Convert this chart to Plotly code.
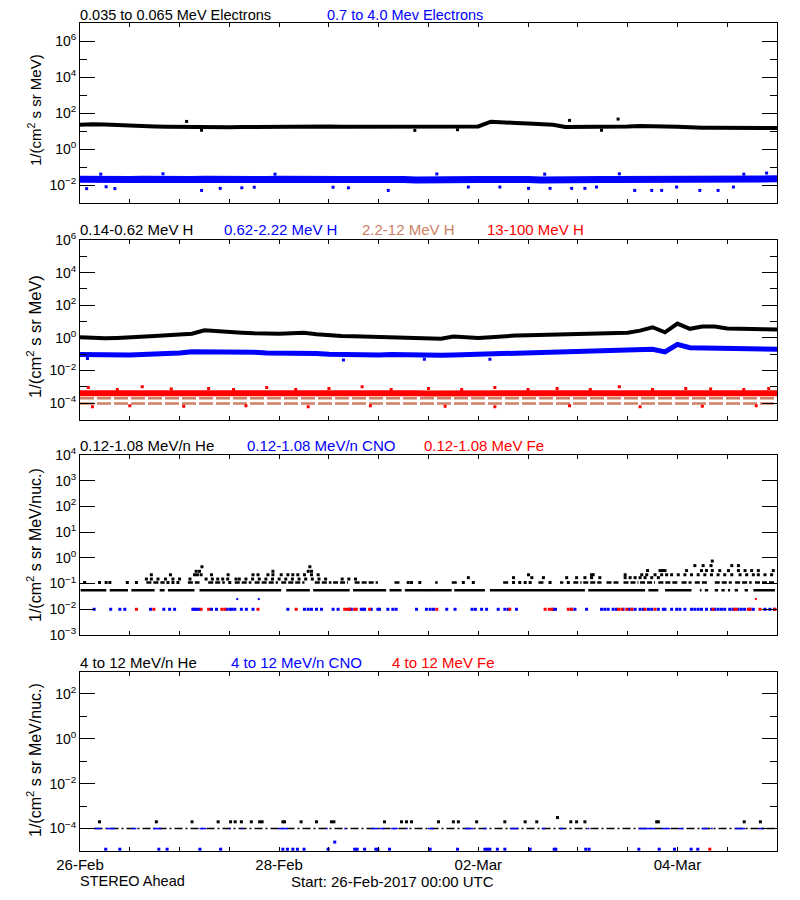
import numpy as np
import pandas as pd
import plotly.graph_objects as go

START = pd.Timestamp("2017-02-26 00:00")

# ---------------- x ticks ----------------
tick_hours = [0, 12, 24, 36, 48, 60, 72, 84, 96, 108, 120, 132, 144, 156, 168]
tick_text = ["26-Feb", "", "", "", "28-Feb", "", "", "", "02-Mar", "", "", "", "04-Mar", "", ""]

# 3-hourly time grid (hours after start)
grid_hours = list(range(0, 169, 3))

# ---------------- Panel 1 : electrons ----------------
e_lo = [22, 24, 23, 21, 19, 18, 18, 17.5, 17, 16,
        15.5, 15.5, 16, 16.5, 17, 17.5, 18, 18, 19, 18.5,
        18, 17.5, 17.5, 17, 17, 17.5, 17, 17.5, 17, 17.5,
        17.5, 17, 18, 33, 32, 28, 26, 24, 22, 16.5,
        16.5, 17, 18, 18.5, 18, 19, 19.5, 18, 17, 15.5,
        15, 15, 14.5, 14.5, 14.5, 14.5, 14.5]
e_lo_out_h = [25.7, 29.3, 80.7, 91.0, 118.0, 125.7, 129.7]
e_lo_out_v = [34, 11, 10.8, 11.8, 39, 11, 46]

e_hi = [0.021, 0.02, 0.021, 0.02, 0.02, 0.021, 0.02, 0.019, 0.02, 0.02,
        0.021, 0.02, 0.02, 0.019, 0.02, 0.02, 0.021, 0.02, 0.02, 0.02,
        0.019, 0.02, 0.02, 0.021, 0.02, 0.02, 0.02, 0.019, 0.02, 0.02,
        0.021, 0.02, 0.02, 0.02, 0.021, 0.02, 0.02, 0.019, 0.02, 0.02,
        0.02, 0.021, 0.02, 0.02, 0.02, 0.019, 0.02, 0.02, 0.021, 0.02,
        0.02, 0.02, 0.02, 0.021, 0.02, 0.021, 0.022]
e_hi_out_h = [1.6, 6.3, 8.4, 29.3, 33.8, 39.0, 42.0, 61.0, 64.7, 74.3, 93.6, 101.2,
              108.1, 113.3, 118.5, 121.7, 124.5, 133.7, 137.8, 140.2, 143.8, 149.4,
              153.8, 157.5, 165.5, 5.0, 20.0, 47.0, 86.0, 112.0, 130.0, 160.0]
e_hi_out_v = [0.0063, 0.008, 0.0063, 0.005, 0.0065, 0.007, 0.0075, 0.0075, 0.007, 0.005,
              0.0077, 0.0077, 0.0065, 0.0065, 0.0065, 0.0065, 0.0077, 0.005, 0.005, 0.005,
              0.0077, 0.005, 0.005, 0.0077, 0.046, 0.04, 0.042, 0.04, 0.041, 0.04, 0.042, 0.04]

# ---------------- Panel 2 : protons ----------------
h1 = [1.1, 1.0, 0.95, 1.0, 1.05, 1.2, 1.3, 1.45, 1.6, 1.8,
      2.9, 2.5, 2.2, 2.1, 1.9, 1.75, 1.8, 1.95, 2.05, 1.7,
      1.4, 1.3, 1.25, 1.2, 1.15, 1.15, 1.1, 1.05, 0.95, 0.9,
      1.2, 1.1, 1.0, 1.1, 1.3, 1.4, 1.45, 1.5, 1.55, 1.6,
      1.6, 1.75, 1.8, 1.9, 2.1, 2.8, 4.5, 2.2, 7.5, 3.6,
      5.0, 5.0, 3.8, 3.6, 3.7, 3.4, 3.3]
h2 = [0.095, 0.09, 0.088, 0.09, 0.09, 0.095, 0.1, 0.1, 0.12, 0.14,
      0.14, 0.145, 0.14, 0.135, 0.13, 0.12, 0.12, 0.125, 0.12, 0.11,
      0.1, 0.095, 0.09, 0.09, 0.09, 0.095, 0.09, 0.088, 0.085, 0.088,
      0.09, 0.095, 0.1, 0.105, 0.11, 0.12, 0.12, 0.125, 0.13, 0.135,
      0.14, 0.14, 0.15, 0.16, 0.19, 0.2, 0.2, 0.14, 0.4, 0.25,
      0.24, 0.26, 0.24, 0.23, 0.22, 0.21, 0.2]
h2_out_h = [1.8, 63.5, 83.0, 98.8]
h2_out_v = [0.055, 0.044, 0.05, 0.05]
h3_levels = [2.0e-4, 9.5e-5]
h4 = [4.0e-4, 4.2e-4, 4.0e-4, 3.9e-4, 4.1e-4, 4.0e-4, 4.2e-4, 4.0e-4, 3.9e-4, 4.0e-4,
      4.1e-4, 4.0e-4, 4.0e-4, 3.9e-4, 4.0e-4, 4.1e-4, 4.0e-4, 4.0e-4, 3.9e-4, 4.0e-4,
      4.0e-4, 4.1e-4, 4.0e-4, 3.9e-4, 4.0e-4, 4.0e-4, 4.1e-4, 4.0e-4, 3.9e-4, 4.0e-4,
      4.0e-4, 4.0e-4, 4.1e-4, 4.0e-4, 3.9e-4, 4.0e-4, 4.0e-4, 4.1e-4, 4.0e-4, 4.0e-4,
      3.9e-4, 4.0e-4, 4.1e-4, 4.0e-4, 4.0e-4, 4.1e-4, 4.0e-4, 4.0e-4, 4.2e-4, 4.0e-4,
      4.1e-4, 4.0e-4, 4.0e-4, 4.1e-4, 4.0e-4, 4.0e-4, 4.1e-4]
h4_out_h = [2, 9, 15, 22, 31, 37, 45, 52, 60, 68, 75, 84, 92, 100, 108, 115, 123, 130,
            138, 146, 152, 160, 166, 3, 12, 25, 40, 55, 70, 88, 100, 118, 135, 150, 163]
h4_out_v = [9e-4, 7e-4, 1e-3, 7.5e-4, 8e-4, 7e-4, 9e-4, 7e-4, 8e-4, 1e-3, 7e-4, 8e-4,
            7e-4, 9e-4, 7e-4, 8e-4, 7e-4, 1e-3, 7e-4, 8e-4, 7.5e-4, 7e-4, 8e-4,
            6e-5, 7e-5, 6.5e-5, 7e-5, 6e-5, 7e-5, 6.5e-5, 6e-5, 7e-5, 6e-5, 6.5e-5, 7e-5]

# ---------------- Panel 3 : low-energy heavy ions ----------------
he_base_level = 0.055
he_base_start = [0.16, 7.15, 12.37, 19.2, 21.2, 28.8, 49.7, 56.2, 65.8, 74.6, 78.3, 83.6, 90.2,
                 98.8, 122.5, 137.0, 141.0, 149.4, 150.6, 153.0, 154.6, 156.2, 157.8, 160.2, 162.3]
he_base_end = [6.35, 11.57, 17.99, 20.4, 27.6, 48.5, 55.4, 65.0, 73.8, 77.5, 83.7, 89.6, 97.6,
               121.7, 136.2, 139.4, 147.4, 149.8, 151.4, 153.8, 155.4, 156.7, 158.6, 161.0, 167.5]
he_mid_level = 0.11
he_mid_start = [16.0, 26.0, 30.9, 37.3, 42.1, 48.5, 56.6, 61.0, 66.2, 75.8, 85.6, 89.6, 102.0,
                110.5, 115.7, 118.9, 121.3, 126.9, 131.0, 135.0, 139.4, 145.0, 148.2, 153.0,
                157.9, 162.7]
he_mid_end = [20.4, 28.8, 34.9, 41.3, 47.7, 54.1, 60.6, 64.6, 71.8, 77.0, 86.2, 91.2, 103.2,
              111.7, 116.5, 120.9, 125.7, 129.8, 134.6, 138.6, 144.2, 147.4, 151.4, 157.1,
              161.9, 167.5]
he_mid_pts = [1.1, 4.7, 6.3, 7.2, 11.4, 13.6, 21.2, 22.4, 23.6, 36.1, 79.1, 79.9, 81.9,
              92.4, 94.8, 104.5, 106.0, 107.3, 108.5, 113.3, 117.7]
he_hi_h = [16.0, 17.2, 18.8, 20.6, 22.4, 24.0, 26.5, 30.4, 31.9, 33.2, 34.4, 35.6, 37.6,
           38.4, 40.0, 41.6, 43.2, 44.8, 46.4, 48.0, 49.6, 51.2, 52.8, 54.4, 56.0, 57.6,
           59.2, 63.2, 64.8, 66.4,
           17.2, 21.8, 27.6, 28.3, 29.2, 31.7, 35.7, 41.7, 42.9, 45.3, 46.5, 48.5, 50.1,
           51.3, 52.5, 54.1, 55.8, 57.4,
           28.0, 28.8, 46.5, 55.0, 55.8, 29.4, 55.4,
           93.6, 104.5, 108.9, 111.7, 117.3, 119.7, 121.7, 123.3, 125.3, 131.4, 132.6,
           133.8, 135.0, 136.2, 137.8, 139.4,
           108.1, 123.3, 123.7, 131.4, 135.4, 136.6, 138.6, 140.2, 141.4, 142.6, 144.2,
           145.8, 147.4, 149.0, 150.6, 152.2, 153.8, 155.4, 157.1, 159.1, 160.7, 162.3,
           163.5, 165.1, 166.7,
           136.8, 139.8, 140.4, 141.0, 146.2, 149.8, 151.0, 152.4, 154.2, 156.3, 158.7,
           160.3, 161.9, 163.5, 167.1,
           148.2, 150.2, 152.1, 157.1, 158.7, 152.4]
he_hi_v = [0.15] * 30 + [0.22] * 18 + [0.3] * 5 + [0.45] * 2 + [0.17] * 16 + \
          [0.22] * 25 + [0.32] * 15 + [0.5] * 5 + [0.75]

cno_lo_h = [3.4, 7.4, 9.6, 10.8, 17.0, 20.2, 21.6, 22.8, 27.2, 27.6, 28.0, 28.6, 31.7, 32.9,
            35.3, 36.1, 36.6, 37.3, 38.9, 40.1, 41.7, 50.1, 54.1, 55.0, 55.8, 57.0, 58.2,
            61.0, 62.2, 65.0, 65.4, 67.8, 68.2, 68.6, 70.2, 71.8, 72.2, 74.2, 75.4, 76.2,
            81.1, 83.5, 84.4, 85.2, 88.4, 90.4, 94.5, 95.3, 96.8, 98.0, 100.8, 102.4,
            103.2, 105.2, 114.1, 114.6, 118.5, 119.3, 122.1, 125.7, 126.5, 127.3, 128.5,
            129.3, 130.9, 132.2, 133.0, 133.8, 135.0, 135.8, 137.0, 137.8, 139.4, 140.6,
            141.0, 142.6, 143.8, 144.6, 145.8, 147.4, 148.2, 149.0, 149.8, 151.0, 152.2,
            153.0, 153.8, 154.6, 155.4, 156.6, 157.4, 158.6, 159.4, 160.2, 161.5, 162.3,
            165.1, 166.3, 167.4]
cno_lo_hi_h = [37.9, 43.1]
fe_lo_h = [13.6, 17.8, 29.2, 31.0, 34.2, 34.9, 42.9, 52.1, 63.8, 64.4, 65.0, 66.2, 66.6,
           69.8, 86.0, 103.6, 112.1, 113.1, 113.7, 117.7, 118.5, 129.8, 130.6, 131.8,
           133.0, 136.2, 138.6, 152.6, 157.8, 158.2, 161.1, 161.5, 163.9, 167.5]
fe_lo_hi_h = [162.9]
lo_ion_level = 0.01
lo_ion_hi_level = 0.025

# ---------------- Panel 4 : high-energy heavy ions ----------------
hi_ion_level = 1e-4
he4_start = 3.5
he4_end = 168.0
he4_up_h = [4.7, 18.4, 27.0, 33.3, 36.3, 37.4, 38.9, 41.3, 43.3, 43.9, 48.9, 49.3, 53.3,
            57.0, 60.6, 61.2, 73.4, 77.5, 78.7, 79.9, 86.4, 90.0, 91.2, 95.6, 102.4, 107.3,
            110.1, 118.3, 119.7, 121.7, 139.0, 139.4, 160.1, 164.0, 115.1]
he4_up_v = [2e-4] * 34 + [3.1e-4]
cno4_start = [3.5, 6.3, 12.4, 17.6, 28.8, 36.0, 38.8, 47.7, 59.3, 63.7, 70.2, 72.2, 75.0, 78.6,
              83.9, 92.8, 97.2, 103.6, 111.3, 115.7, 122.4, 134.6, 140.2, 144.2, 149.8,
              152.1, 157.9, 163.5]
cno4_end = [5.1, 8.4, 13.6, 19.6, 30.4, 36.3, 39.1, 50.1, 59.6, 64.0, 71.8, 73.4, 76.6, 78.9,
            85.2, 94.8, 98.0, 105.7, 112.1, 116.5, 122.7, 138.6, 142.2, 145.4, 151.4,
            152.4, 160.3, 165.1]
cno4_low_h = [6.2, 9.6, 19.0, 21.0, 28.9, 33.9, 48.9, 50.0, 51.3, 52.4, 54.0, 59.8, 66.2,
              66.8, 68.6, 71.3, 71.8, 74.6, 84.4, 91.0, 97.6, 98.2, 98.8, 100.6, 102.4,
              108.5, 114.3, 114.7, 121.9, 122.7, 134.7, 139.6, 143.3, 147.3, 148.9, 61.4]
cno4_low_v = [1.2e-5] * 35 + [2.5e-5]
fe4_low_h = [151.8]
fe4_low_v = [1.2e-5]

SIENNA = "#CD8066"


def tx(hours):
    return list(START + pd.to_timedelta(np.asarray(hours, dtype=float), unit="h"))


def segs(starts, ends, level):
    xs, ys = [], []
    for a, b in zip(starts, ends):
        if b - a < 0.4:
            b = a + 0.4
        xs += tx([a, b]) + [None]
        ys += [level, level, None]
    return xs, ys


fig = go.Figure()


def line(h, v, color, width, ax, dash=None):
    fig.add_trace(go.Scatter(x=tx(h), y=v, mode="lines",
                             line=dict(color=color, width=width, dash=dash),
                             xaxis="x" + ax, yaxis="y" + ax, hoverinfo="skip"))


def pts(h, v, color, ax, size=3):
    fig.add_trace(go.Scatter(x=tx(h), y=v, mode="markers",
                             marker=dict(color=color, size=size, symbol="square", line=dict(width=0)),
                             xaxis="x" + ax, yaxis="y" + ax, hoverinfo="skip"))


def seg_trace(starts, ends, level, color, width, ax, dash=None):
    xs, ys = segs(starts, ends, level)
    fig.add_trace(go.Scatter(x=xs, y=ys, mode="lines",
                             line=dict(color=color, width=width, dash=dash),
                             xaxis="x" + ax, yaxis="y" + ax, hoverinfo="skip"))


# panel 1
line(grid_hours, e_lo, "black", 4, "")
pts(e_lo_out_h, e_lo_out_v, "black", "")
line(grid_hours, e_hi, "blue", 7, "")
pts(e_hi_out_h, e_hi_out_v, "blue", "")

# panel 2
line(grid_hours, h1, "black", 4, "2")
line(grid_hours, h2, "blue", 5, "2")
pts(h2_out_h, h2_out_v, "blue", "2")
for lev in h3_levels:
    seg_trace([0.0], [168.0], lev, SIENNA, 2.5, "2", dash="14px,3px")
line(grid_hours, h4, "red", 6, "2")
pts(h4_out_h, h4_out_v, "red", "2")

# panel 3
seg_trace(he_base_start, he_base_end, he_base_level, "black", 2.5, "3")
seg_trace(he_mid_start, he_mid_end, he_mid_level, "black", 2.5, "3", dash="5px,2px")
pts(he_mid_pts, [he_mid_level] * len(he_mid_pts), "black", "3")
pts(he_hi_h, he_hi_v, "black", "3")
pts(cno_lo_h, [lo_ion_level] * len(cno_lo_h), "blue", "3")
pts(cno_lo_hi_h, [lo_ion_hi_level] * len(cno_lo_hi_h), "blue", "3", size=2)
pts(fe_lo_h, [lo_ion_level] * len(fe_lo_h), "red", "3")
pts(fe_lo_hi_h, [lo_ion_hi_level] * len(fe_lo_hi_h), "red", "3", size=2)

# panel 4
seg_trace([he4_start], [he4_end], hi_ion_level, "black", 1.5, "4", dash="8px,3px,2px,3px")
pts(he4_up_h, he4_up_v, "black", "4")
seg_trace(cno4_start, cno4_end, hi_ion_level, "blue", 1.5, "4")
pts(cno4_low_h, cno4_low_v, "blue", "4")
pts(fe4_low_h, fe4_low_v, "red", "4")

FONT = "Liberation Sans, Arial, sans-serif"
# the page body adds an 8 px margin; lay the figure out in window pixels
OFF = 8
W, H = 792, 892
x_dom = [(80 - OFF) / W, (777 - OFF) / W]
panels_px = [(23, 203), (240, 419.5), (455, 635), (671.5, 851)]


def px_x(x):
    return (x - OFF) / W


def px_y(y):
    return 1 - (y - OFF) / H


def ydom(t, b):
    return [px_y(b), px_y(t)]


def sup(e):
    s = str(e).replace("-", "\u2212")
    return "10<sup>" + s + "</sup>"


y_specs = [
    dict(range=[-3, 7], major=[-2, 0, 2, 4, 6], minor=[-1, 1, 3, 5]),
    dict(range=[-5, 6], major=[-4, -2, 0, 2, 4, 6], minor=[-3, -1, 1, 3, 5]),
    dict(range=[-3, 4], major=[-3, -2, -1, 0, 1, 2, 3, 4], minor=[]),
    dict(range=[-5, 3], major=[-4, -2, 0, 2], minor=[-3, -1, 1]),
]

layout = dict(width=W, height=H, autosize=False, margin=dict(l=0, r=0, t=0, b=0, autoexpand=False),
              paper_bgcolor="white", plot_bgcolor="white", showlegend=False,
              font=dict(family=FONT, size=14, color="black"))

for i, ((t, b), ys) in enumerate(zip(panels_px, y_specs)):
    suffix = "" if i == 0 else str(i + 1)
    xa = dict(domain=x_dom, anchor="y" + suffix, type="date", automargin=False,
              range=tx([0, 168]), tickmode="array", tickvals=tx(tick_hours),
              ticktext=tick_text, showticklabels=(i == 3),
              ticks="inside", ticklen=4, tickcolor="black", tickwidth=1,
              showline=True, linecolor="black", linewidth=1, mirror="ticks",
              showgrid=False, zeroline=False, tickfont=dict(size=15, family=FONT))
    ya = dict(domain=ydom(t, b), anchor="x" + suffix, type="log", range=ys["range"],
              automargin=False,
              tickmode="array", tickvals=[10.0 ** e for e in ys["major"]],
              ticktext=[sup(e) for e in ys["major"]],
              ticks="inside", ticklen=15, tickcolor="black", tickwidth=1,
              showline=True, linecolor="black", linewidth=1, mirror="ticks",
              showgrid=False, zeroline=False, tickfont=dict(size=14, family=FONT))
    if ys["minor"]:
        ya["minor"] = dict(tickmode="array", tickvals=[10.0 ** e for e in ys["minor"]],
                           ticks="inside", ticklen=7, tickcolor="black", tickwidth=1,
                           showgrid=False)
    layout["xaxis" + suffix] = xa
    layout["yaxis" + suffix] = ya

fig.update_layout(**layout)

ann = []


def label(text, xpx, ypx, color="black", size=15, angle=0, xanchor="left", yanchor="middle"):
    ann.append(dict(text=text, x=px_x(xpx), y=px_y(ypx), xref="paper", yref="paper",
                    xanchor=xanchor, yanchor=yanchor, showarrow=False, textangle=angle,
                    borderpad=0, font=dict(family=FONT, size=size, color=color)))


# panel titles
label("0.035 to 0.065 MeV Electrons", 79, 15, size=14.5)
label("0.7 to 4.0 Mev Electrons", 326, 15, "blue", size=14.5)
label("0.14-0.62 MeV H", 79, 230)
label("0.62-2.22 MeV H", 223, 230, "blue")
label("2.2-12 MeV H", 361, 230, SIENNA)
label("13-100 MeV H", 486, 230, "red")
label("0.12-1.08 MeV/n He", 79, 445)
label("0.12-1.08 MeV/n CNO", 246, 445, "blue")
label("0.12-1.08 MeV Fe", 423, 445, "red")
label("4 to 12 MeV/n He", 79, 662)
label("4 to 12 MeV/n CNO", 230, 662, "blue")
label("4 to 12 MeV Fe", 391, 662, "red")

# y-axis titles
label("1/(cm<sup>2</sup> s sr MeV)", 34, 110, size=15, angle=-90, xanchor="center")
label("1/(cm<sup>2</sup> s sr MeV)", 34, 337, size=16.5, angle=-90, xanchor="center")
label("1/(cm<sup>2</sup> s sr MeV/nuc.)", 34, 545, size=16, angle=-90, xanchor="center")
label("1/(cm<sup>2</sup> s sr MeV/nuc.)", 34, 760, size=16, angle=-90, xanchor="center")

# footer
label("STEREO Ahead", 79, 881, size=14.5)
label("Start: 26-Feb-2017 00:00 UTC", 290, 881, size=15)

fig.update_layout(annotations=ann)
fig.write_html("out.html")
